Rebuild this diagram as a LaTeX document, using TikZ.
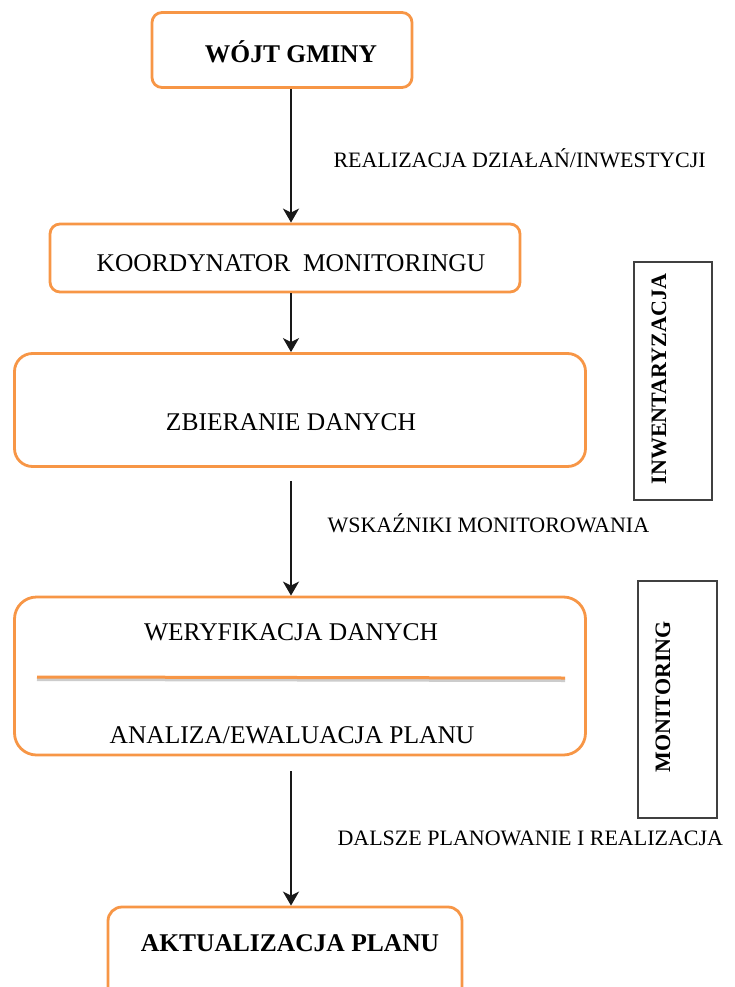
\documentclass[tikz,border=0pt]{standalone}
\usepackage{fontspec}
\setmainfont{Liberation Serif}
\usetikzlibrary{positioning, arrows.meta, shapes}
\definecolor{boxorange}{RGB}{247,150,70}

\begin{document}
\begin{tikzpicture}[x=1pt, y=-1pt]
        \tikzstyle{stage} = [rectangle, draw=boxorange, line width=2.8pt, fill=white,
          rounded corners=10pt, inner sep=0pt]
        \tikzstyle{phase} = [rectangle, draw=black!75, line width=1.8pt, inner sep=0pt]
        \tikzstyle{big} = [font=\fontsize{25.5}{30}\selectfont]
        \tikzstyle{bigb} = [font=\fontsize{25.5}{30}\selectfont\bfseries]
        \tikzstyle{side} = [font=\fontsize{22}{26}\selectfont\bfseries, rotate=90]
        \tikzstyle{note} = [font=\fontsize{22}{26}\selectfont, anchor=west]
        \tikzstyle{flow} = [-{Stealth[length=14pt, width=16pt, inset=4pt]}, line width=2.8pt, black!90]

        \useasboundingbox (0,0) rectangle (734,987);
        \clip (0,0) rectangle (734,987);

        % boxes of the flow
        \node[stage, minimum width=260, minimum height=75] (wojt) at (282,50) {};
        \node[stage, minimum width=470, minimum height=68] (koord) at (285,258) {};
        \node[stage, minimum width=571, minimum height=113, rounded corners=18pt] (zbier) at (300,410) {};
        \node[stage, minimum width=571, minimum height=158, rounded corners=22pt] (weryf) at (300,676) {};
        \node[stage, minimum width=354, minimum height=110, rounded corners=14pt] (aktual) at (285,962) {};

        \node[bigb] (wojt-t) at (291,52) {WÓJT GMINY};
        \node[big] (koord-t) at (291,263) {KOORDYNATOR\ \ MONITORINGU};
        \node[big] (zbier-t) at (291,422) {ZBIERANIE DANYCH};
        \node[big] (weryf-t) at (291,632) {WERYFIKACJA DANYCH};
        \node[big] (analiza-t) at (292,735) {ANALIZA/EWALUACJA PLANU};
        \node[bigb] (aktual-t) at (290,943) {AKTUALIZACJA PLANU};

        % line splitting the verification box
        \coordinate (split-l) at (37,677);
        \coordinate (split-r) at (565,678);
        \draw[black!20, line width=3pt] ([yshift=-2.5pt]split-l) -- ([yshift=-2.5pt]split-r);
        \draw[boxorange, line width=3pt] (split-l) -- (split-r);

        % phases on the right
        \node[phase, minimum width=78, minimum height=238] (inw) at (673,381) {};
        \node[side] (inw-t) at (659,379) {INWENTARYZACJA};
        \node[phase, minimum width=79, minimum height=237] (mon) at (677.5,699.5) {};
        \node[side] (mon-t) at (663,697) {MONITORING};

        % connectors
        \draw[flow] (wojt.south -| wojt-t) -- (koord.north -| wojt-t);
        \draw[flow] (koord.south -| koord-t) -- (zbier.north -| koord-t);
        \draw[flow, shorten <=13pt] (zbier.south -| koord-t) -- (weryf.north -| koord-t);
        \draw[flow, shorten <=15pt] (weryf.south -| koord-t) -- (aktual.north -| koord-t);

        \node[note] (realiz) at (330,158) {REALIZACJA DZIAŁAŃ/INWESTYCJI};
        \node[note] (wskaz) at (324,523) {WSKAŹNIKI MONITOROWANIA};
        \node[note] (dalsze) at (334,838) {DALSZE PLANOWANIE I REALIZACJA};
      \end{tikzpicture}
\end{document}
